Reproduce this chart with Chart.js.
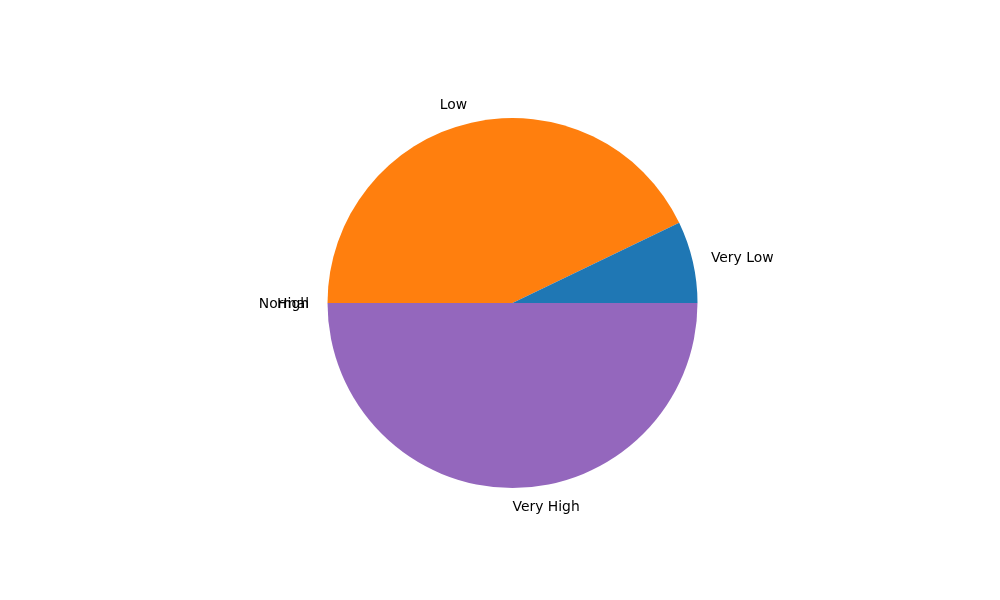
<!DOCTYPE html>
<html>
<head>
<meta charset="utf-8">
<script src="https://cdn.jsdelivr.net/npm/chart.js@4"></script>
<style>
  html, body { margin: 0; padding: 0; background: #ffffff; }
  #wrap { width: 1000px; height: 600px; position: relative; }
</style>
</head>
<body>
<div id="wrap"><canvas id="c" width="1000" height="600"></canvas></div>
<script>
const categories = ["Very Low", "Low", "Normal", "High", "Very High"];
const values = [1, 6, 0, 0, 7];
const colors = ["#1f77b4", "#ff7f0e", "#2ca02c", "#d62728", "#9467bd"];

// matplotlib draws counter-clockwise from 3 o'clock; Chart.js draws clockwise,
// so feed the library the reversed order starting at 3 o'clock.
const libLabels = categories.slice().reverse();
const libValues = values.slice().reverse();
const libColors = colors.slice().reverse();

const labelPlugin = {
  id: 'mplLabels',
  afterDatasetsDraw(chart) {
    const ctx = chart.ctx;
    const meta = chart.getDatasetMeta(0);
    ctx.save();
    ctx.font = '13.9px "DejaVu Sans"';
    ctx.fillStyle = '#000000';
    ctx.textBaseline = 'middle';
    meta.data.forEach((arc, i) => {
      const p = arc.getProps(['x', 'y', 'startAngle', 'endAngle', 'outerRadius'], true);
      const mid = (p.startAngle + p.endAngle) / 2;
      const r = p.outerRadius * 1.1;
      const cx = p.x + r * Math.cos(mid);
      const cy = p.y + r * Math.sin(mid) + 1;
      ctx.textAlign = Math.cos(mid) > 0 ? 'left' : 'right';
      ctx.fillText(libLabels[i], cx, cy);
    });
    ctx.restore();
  }
};

new Chart(document.getElementById('c'), {
  type: 'pie',
  data: {
    labels: libLabels,
    datasets: [{
      data: libValues,
      backgroundColor: libColors,
      borderWidth: 0
    }]
  },
  options: {
    responsive: false,
    animation: false,
    rotation: 90,
    layout: { padding: { left: 327.5, right: 302.5, top: 118, bottom: 112 } },
    plugins: {
      legend: { display: false },
      tooltip: { enabled: false }
    }
  },
  plugins: [labelPlugin]
});
</script>
</body>
</html>
